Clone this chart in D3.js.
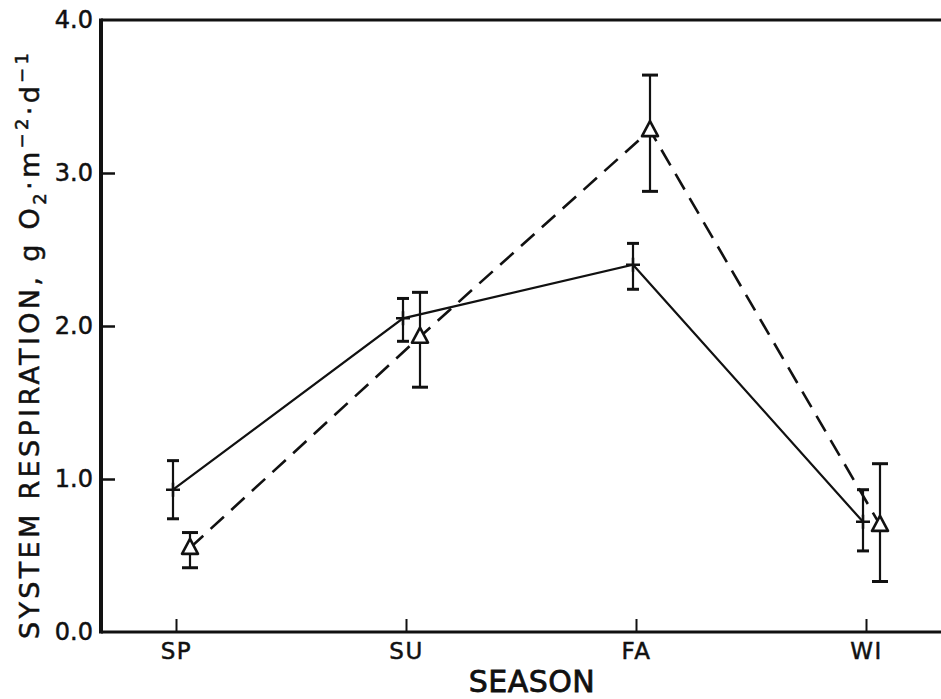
<!DOCTYPE html>
<html>
<head>
<meta charset="utf-8">
<script src="https://cdn.jsdelivr.net/npm/d3@7"></script>
<style>
  html, body { margin: 0; padding: 0; background: #fff; }
  svg { display: block; }
  text { font-family: "DejaVu Sans", "Liberation Sans", sans-serif; fill: #111; stroke: #111; stroke-width: 0.5px; }
</style>
</head>
<body>
<svg id="chart" width="941" height="699"></svg>
<script>
// ---- data ----
const seasons = ["SP", "SU", "FA", "WI"];
const yTicks = [0, 1, 2, 3, 4];
// series A: solid line, "+" markers
const meanA  = [0.93, 2.05, 2.40, 0.72];
const upperA = [1.12, 2.18, 2.54, 0.93];
const lowerA = [0.74, 1.90, 2.24, 0.53];
// series B: dashed line, open triangles
const meanB  = [0.55, 1.93, 3.28, 0.70];
const upperB = [0.65, 2.22, 3.64, 1.10];
const lowerB = [0.42, 1.60, 2.88, 0.33];

(function () {
const svg = d3.select("#chart");
const pLeft = 101, pRight = 941, pTop = 20, pBottom = 632;
const x = d3.scalePoint().domain(seasons).range([176, 866]);
const y = d3.scaleLinear().domain([0, 4]).range([pBottom, pTop]);
const ink = "#111";
const FONT = "'DejaVu Sans', 'Liberation Sans', sans-serif";

// frame lines: left, bottom, top
svg.append("line").attr("x1", pLeft).attr("x2", pLeft).attr("y1", pTop - 1.5).attr("y2", pBottom + 1.5)
  .attr("stroke", ink).attr("stroke-width", 4);
svg.append("line").attr("x1", pLeft).attr("x2", pRight).attr("y1", pBottom).attr("y2", pBottom)
  .attr("stroke", ink).attr("stroke-width", 3);
svg.append("line").attr("x1", pLeft).attr("x2", pRight).attr("y1", pTop).attr("y2", pTop)
  .attr("stroke", ink).attr("stroke-width", 3);

// y axis ticks and labels
const yAxis = d3.axisLeft(y).tickValues(yTicks).tickFormat(d3.format(".1f"))
  .tickSizeInner(-14).tickSizeOuter(0).tickPadding(8);
const gy = svg.append("g").attr("transform", `translate(${pLeft},0)`).call(yAxis);
gy.attr("font-family", null).attr("font-size", null);
gy.select(".domain").remove();
gy.selectAll(".tick line").attr("stroke", ink).attr("stroke-width", 2.5);
gy.selectAll(".tick text").style("font-size", "24px").style("font-family", FONT).attr("fill", ink);
gy.selectAll(".tick").filter(d => d === 0 || d === 4).select("line").remove();

// x axis ticks and labels
const xAxis = d3.axisBottom(x).tickSizeInner(-13).tickSizeOuter(0).tickPadding(11);
const gx = svg.append("g").attr("transform", `translate(0,${pBottom})`).call(xAxis);
gx.attr("font-family", null).attr("font-size", null);
gx.select(".domain").remove();
gx.selectAll(".tick line").attr("stroke", ink).attr("stroke-width", 2);
gx.selectAll(".tick text").style("font-size", "23px").style("font-family", FONT).attr("fill", ink)
  .attr("letter-spacing", 1.5);

// axis titles
svg.append("text").attr("x", 532).attr("y", 692).attr("text-anchor", "middle")
  .style("font-size", "30px").style("stroke-width", "0.8px").attr("letter-spacing", 0.5).text("SEASON");

const yl = svg.append("text")
  .attr("transform", "translate(39,346) rotate(-90)")
  .attr("text-anchor", "middle").style("font-size", "27px")
  .attr("textLength", 586).attr("lengthAdjust", "spacing");
yl.append("tspan").text("SYSTEM RESPIRATION, g O");
yl.append("tspan").style("font-size", "18px").attr("dy", 7).text("2");
yl.append("tspan").attr("dy", -7).text("\u00B7m");
yl.append("tspan").style("font-size", "18px").attr("dy", -11).text("\u22122");
yl.append("tspan").attr("dy", 11).text("\u00B7d");
yl.append("tspan").style("font-size", "18px").attr("dy", -11).text("\u22121");

// series construction
function build(mean, up, lo, off) {
  return seasons.map((s, i) => ({ s, m: mean[i], u: up[i], l: lo[i], px: x(s) + off }));
}
const A = build(meanA, upperA, lowerA, -3);
const B = build(meanB, upperB, lowerB, 14);

// lines
svg.append("path").datum(A)
  .attr("d", d3.line().x(d => d.px).y(d => y(d.m)))
  .attr("fill", "none").attr("stroke", ink).attr("stroke-width", 2.2);
svg.append("path").datum(B)
  .attr("d", d3.line().x(d => d.px).y(d => y(d.m)))
  .attr("fill", "none").attr("stroke", ink).attr("stroke-width", 2.6)
  .attr("stroke-dasharray", "18,10");

// error bars
function errorBars(data, cap) {
  const g = svg.append("g");
  g.selectAll("line.v").data(data).join("line")
    .attr("x1", d => d.px).attr("x2", d => d.px)
    .attr("y1", d => y(d.u)).attr("y2", d => y(d.l))
    .attr("stroke", ink).attr("stroke-width", 2.2);
  g.selectAll("line.cu").data(data).join("line")
    .attr("x1", d => d.px - cap).attr("x2", d => d.px + cap)
    .attr("y1", d => y(d.u)).attr("y2", d => y(d.u))
    .attr("stroke", ink).attr("stroke-width", 3);
  g.selectAll("line.cl").data(data).join("line")
    .attr("x1", d => d.px - cap).attr("x2", d => d.px + cap)
    .attr("y1", d => y(d.l)).attr("y2", d => y(d.l))
    .attr("stroke", ink).attr("stroke-width", 3);
}
errorBars(A, 6);
errorBars(B, 8);

// markers: plus for A
svg.append("g").selectAll("path").data(A).join("path")
  .attr("d", d => `M${d.px - 7},${y(d.m)}H${d.px + 7}M${d.px},${y(d.m) - 7}V${y(d.m) + 7}`)
  .attr("stroke", ink).attr("stroke-width", 2.5).attr("fill", "none");

// markers: open triangle for B
svg.append("g").selectAll("path").data(B).join("path")
  .attr("d", d => { const cx = d.px, cy = y(d.m);
    return `M${cx},${cy - 9}L${cx + 8},${cy + 6}L${cx - 8},${cy + 6}Z`; })
  .attr("stroke", ink).attr("stroke-width", 2.6).attr("fill", "#fff").attr("stroke-linejoin", "round");
})();
</script>
</body>
</html>
